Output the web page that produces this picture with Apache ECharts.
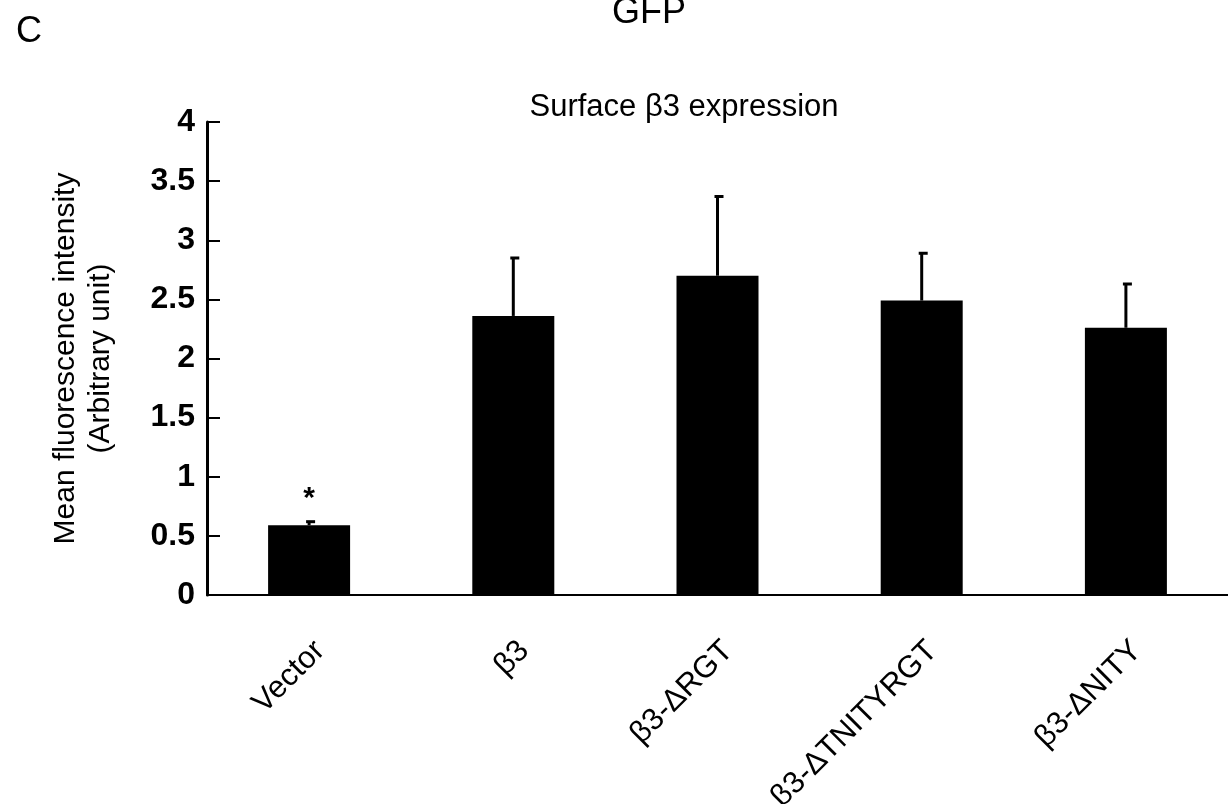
<!DOCTYPE html>
<html>
<head>
<meta charset="utf-8">
<title>Surface β3 expression</title>
<script src="https://cdn.jsdelivr.net/npm/echarts@6/dist/echarts.min.js"></script>
<style>
	html, body { margin: 0; padding: 0; background: #fff; }
	#chart { width: 1228px; height: 804px; }
</style>
</head>
<body>
<div id="chart"></div>
<script>
// 数据
var categories = ['Vector', 'β3', 'β3-ΔRGT', 'β3-ΔTNITYRGT', 'β3-ΔNITY'];
var means = [0.59, 2.36, 2.70, 2.49, 2.26];
var upper = [0.62, 2.85, 3.37, 2.89, 2.63];
var marks = ['*', '', '', '', ''];
var yTicks = [0, 0.5, 1, 1.5, 2, 2.5, 3, 3.5, 4];

(function() {
	'use strict';

	var chart = echarts.init(document.getElementById('chart'));
	var font = 'Liberation Sans, Arial, sans-serif';

	// 误差线（只画上半部分）
	function renderError(params, api) {
		var i = api.value(0);
		var base = api.coord([i, api.value(1)]);
		var top = api.coord([i, api.value(2)]);
		var children = [{
			type: 'line',
			shape: { x1: base[0], y1: base[1], x2: top[0], y2: top[1] },
			style: { stroke: '#000', lineWidth: 3 }
		}, {
			type: 'line',
			shape: { x1: top[0] - 3, y1: top[1], x2: top[0] + 6, y2: top[1] },
			style: { stroke: '#000', lineWidth: 3 }
		}];
		if (marks[i]) {
			children.push({
				type: 'text',
				style: {
					text: marks[i], x: top[0], y: top[1] - 23,
					align: 'center', verticalAlign: 'middle',
					font: 'bold 30px ' + font, fill: '#000'
				}
			});
		}
		return { type: 'group', children: children };
	}

	var option = {
		animation: false,
		backgroundColor: '#fff',
		title: {
			text: 'Surface β3 expression',
			left: 679, top: 87, textAlign: 'center',
			textStyle: { fontFamily: font, fontSize: 31, fontWeight: 'normal', color: '#000' }
		},
		graphic: [{
			type: 'text', left: 16, top: 14,
			style: { text: 'C', font: '36px ' + font, fill: '#000' }
		}, {
			type: 'text', left: 612, top: -5,
			style: { text: 'GFP', font: '36px ' + font, fill: '#000' }
		}],
		grid: { left: 207, right: 0, top: 122, bottom: 209, outerBoundsMode: 'none', containLabel: false },
		xAxis: {
			type: 'category',
			data: categories,
			axisLine: { lineStyle: { color: '#000', width: 2 } },
			axisTick: { show: false },
			axisLabel: {
				rotate: 45, margin: 40, interval: 0, verticalAlign: 'top',
				fontFamily: font, fontSize: 31, color: '#000'
			}
		},
		yAxis: {
			type: 'value',
			min: 0, max: 4, interval: 0.5,
			name: 'Mean fluorescence intensity\n(Arbitrary unit)',
			nameLocation: 'middle', nameGap: 89, nameRotate: 90,
			nameTextStyle: { fontFamily: font, fontSize: 30, color: '#000', lineHeight: 35 },
			axisLine: { show: true, lineStyle: { color: '#000', width: 3 } },
			axisTick: { show: true, inside: true, length: 13, lineStyle: { color: '#000', width: 2 } },
			splitLine: { show: false },
			axisLabel: {
				margin: 12, fontFamily: font, fontSize: 32, fontWeight: 'bold', color: '#000',
				formatter: function(v) { return yTicks.indexOf(v) >= 0 ? String(v) : ''; }
			}
		},
		series: [{
			name: 'mean',
			type: 'bar',
			data: means,
			barWidth: 82,
			itemStyle: { color: '#000' }
		}, {
			name: 'error',
			type: 'custom',
			renderItem: renderError,
			data: means.map(function(m, i) { return [i, m, upper[i]]; }),
			z: 5
		}]
	};
	chart.setOption(option);
})();
</script>
</body>
</html>
